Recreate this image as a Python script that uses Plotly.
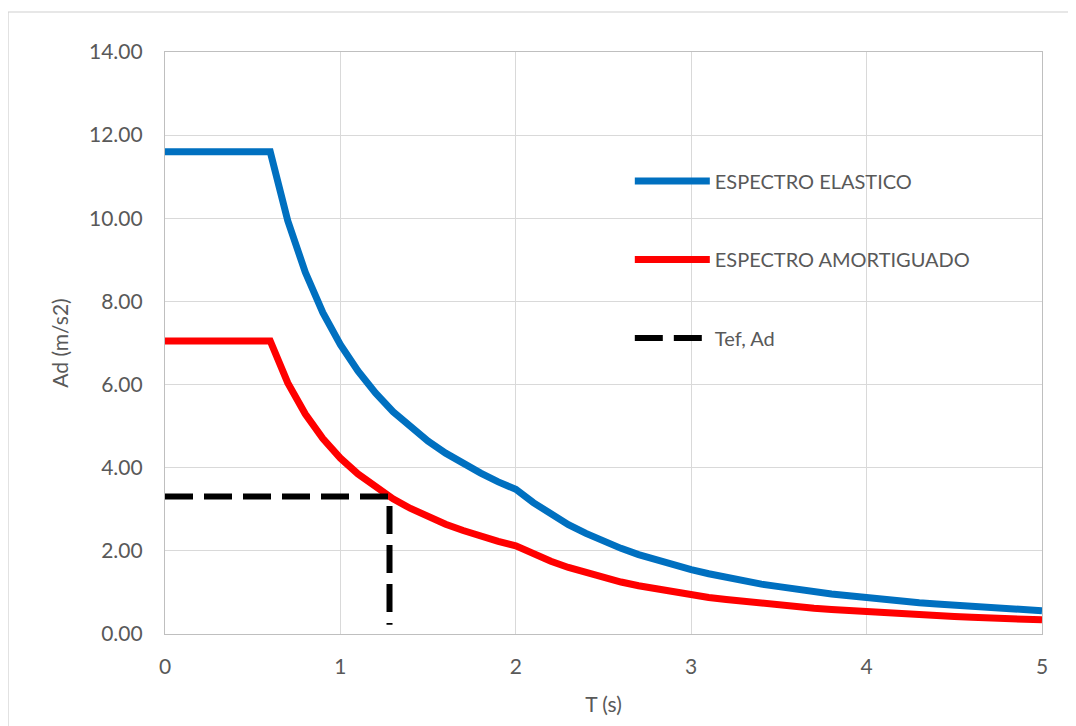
import plotly.graph_objects as go

# Periods T (s)
T = [0.0, 0.1, 0.2, 0.3, 0.4, 0.5, 0.6, 0.7, 0.8, 0.9,
     1.0, 1.1, 1.2, 1.3, 1.4, 1.5, 1.6, 1.7, 1.8, 1.9,
     2.0, 2.1, 2.2, 2.3, 2.4, 2.5, 2.6, 2.7, 2.8, 2.9,
     3.0, 3.1, 3.2, 3.3, 3.4, 3.5, 3.6, 3.7, 3.8, 3.9,
     4.0, 4.1, 4.2, 4.3, 4.4, 4.5, 4.6, 4.7, 4.8, 4.9, 5.0]

# Elastic spectrum Ad (m/s2)
elastico = [11.60, 11.60, 11.60, 11.60, 11.60, 11.60, 11.60, 9.94, 8.70, 7.73,
            6.96, 6.33, 5.80, 5.35, 4.97, 4.64, 4.35, 4.09, 3.87, 3.66,
            3.48, 3.16, 2.88, 2.63, 2.42, 2.23, 2.06, 1.91, 1.78, 1.66,
            1.55, 1.45, 1.36, 1.28, 1.20, 1.14, 1.07, 1.02, 0.96, 0.92,
            0.87, 0.83, 0.79, 0.75, 0.72, 0.69, 0.66, 0.63, 0.60, 0.58, 0.56]

# Damped spectrum Ad (m/s2)
amortiguado = [7.05, 7.05, 7.05, 7.05, 7.05, 7.05, 7.05, 6.04, 5.29, 4.70,
               4.23, 3.85, 3.53, 3.25, 3.02, 2.82, 2.64, 2.49, 2.35, 2.23,
               2.12, 1.92, 1.75, 1.60, 1.47, 1.35, 1.25, 1.16, 1.08, 1.01,
               0.94, 0.88, 0.83, 0.78, 0.73, 0.69, 0.65, 0.62, 0.59, 0.56,
               0.53, 0.50, 0.48, 0.46, 0.44, 0.42, 0.40, 0.38, 0.37, 0.35, 0.34]

# Effective period / Ad marker lines
tef_x = [0.0, 1.28, 1.28]
tef_y = [3.31, 3.31, 0.22]

x_ticks = [0, 1, 2, 3, 4, 5]
x_tick_labels = ["0", "1", "2", "3", "4", "5"]
y_ticks = [0, 2, 4, 6, 8, 10, 12, 14]

FONT = "Lato"
TXT = "#595959"
GRID = "#D9D9D9"

fig = go.Figure()
fig.add_trace(go.Scatter(x=T, y=elastico, mode="lines", name="ESPECTRO ELASTICO",
                         legendgroup="a", line=dict(color="#0070C0", width=7)))
fig.add_trace(go.Scatter(x=T, y=amortiguado, mode="lines", name="ESPECTRO AMORTIGUADO",
                         legendgroup="b", line=dict(color="#FF0000", width=7)))
fig.add_trace(go.Scatter(x=tef_x, y=tef_y, mode="lines", name="Tef, Ad",
                         legendgroup="c",
                         line=dict(color="#000000", width=6, dash="28px,11px")))

fig.update_layout(
    width=1076, height=726,
    margin=dict(l=157, r=42, t=44, b=100),
    paper_bgcolor="white", plot_bgcolor="white",
    font=dict(family=FONT, size=21, color=TXT),
    showlegend=True,
    legend=dict(x=0.530, y=0.812, xanchor="left", yanchor="top",
                bgcolor="rgba(0,0,0,0)", tracegroupgap=49.5, itemwidth=75,
                font=dict(family=FONT, size=20, color=TXT)),
    shapes=[dict(type="rect", xref="paper", yref="paper",
                 x0=-0.179, x1=1.06, y0=-0.18, y1=1.0687,
                 line=dict(color="#D0D0D0", width=1.2), layer="below")],
)
fig.update_xaxes(range=[0, 5], tickvals=x_ticks, ticktext=x_tick_labels,
                 showgrid=True, gridcolor=GRID, gridwidth=1.3,
                 showline=True, linecolor="#BFBFBF", linewidth=1.3, mirror=True,
                 zeroline=False, ticks="", ticklabelstandoff=14,
                 title=dict(text="T (s)", standoff=19,
                            font=dict(family=FONT, size=21, color=TXT)))
fig.update_yaxes(range=[0, 14], tickvals=y_ticks, tickformat=".2f",
                 showgrid=True, gridcolor=GRID, gridwidth=1.3,
                 showline=True, linecolor="#BFBFBF", linewidth=1.3, mirror=True,
                 zeroline=False, ticks="", ticklabelstandoff=17,
                 title=dict(text="Ad (m/s2)", standoff=14,
                            font=dict(family=FONT, size=21, color=TXT)))

fig.write_html("out.html")
